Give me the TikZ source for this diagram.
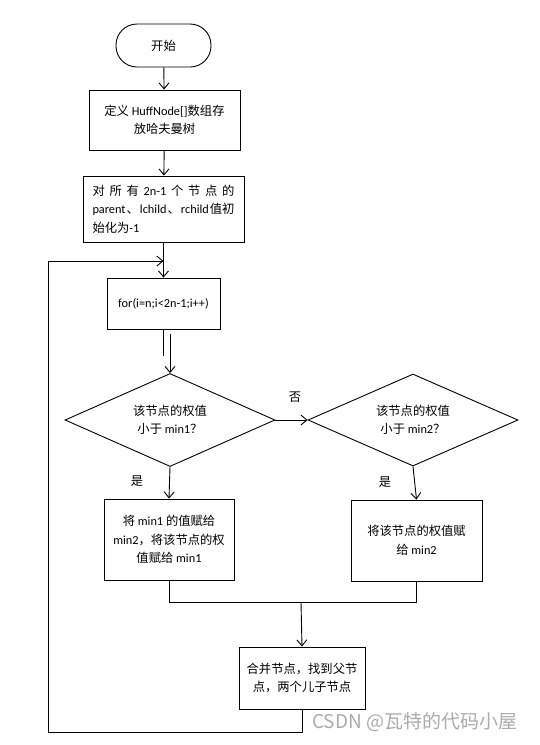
\documentclass[tikz,border=0pt]{standalone}
\usepackage{fontspec}
\setmainfont{Carlito}
\newfontfamily\cjk{Noto Sans CJK SC}
\newcommand\zh[1]{{\cjk #1}}
\usetikzlibrary{shapes.geometric,arrows.meta}
\begin{document}
\begin{tikzpicture}[x=1pt,y=-1pt,
  every node/.style={font=\fontsize{12.3}{18.5}\selectfont, inner sep=0pt},
  box/.style={draw, line width=0.9pt, align=center},
  dia/.style={draw, line width=0.9pt, diamond, aspect=2.26, align=center},
  arr/.style={line width=0.9pt, -{Straight Barb[length=6pt,width=10pt]}},
  ln/.style={line width=0.9pt}]
\useasboundingbox (0,0) rectangle (540,745);
\node[box, rounded corners=21pt, minimum width=95pt, minimum height=43pt] (start) at (163.5,45.5) {\zh{开始}};
\node[box, minimum width=151pt, minimum height=60pt] (def) at (164.5,120) {\zh{定义} HuffNode[]\zh{数组存}\\\zh{放哈夫曼树}};
\node[box, minimum width=161pt, minimum height=66pt, align=left] (init) at (163.5,209)
  {\makebox[142pt][s]{\zh{对}\hfill\zh{所}\hfill\zh{有}\hfill 2n-1\hfill\zh{个}\hfill\zh{节}\hfill\zh{点}\hfill\zh{的}}\\
   \makebox[142pt][s]{parent\hfill\zh{、}\hfill lchild\hfill\zh{、}\hfill rchild\hfill\zh{值初}}\\
   \zh{始化为}-1\hfill\hbox{}};
\node[box, minimum width=113pt, minimum height=51pt] (loop) at (163.5,303.5) {for(i=n;i<2n-1;i++)};
\node[dia, minimum width=210pt, minimum height=93pt] (d1) at (170,420) {\zh{该节点的权值}\\\zh{小于} min1\zh{？}};
\node[dia, minimum width=210pt, minimum height=92pt] (d2) at (413,420) {\zh{该节点的权值}\\\zh{小于} min2\zh{？}};
\node[box, minimum width=130pt, minimum height=81pt] (A) at (169,539.5) {\zh{将} min1 \zh{的值赋给}\\min2\zh{，将该节点的权}\\\zh{值赋给} min1};
\node[box, minimum width=131pt, minimum height=81pt] (B) at (416.5,540.5) {\zh{将该节点的权值赋}\\\zh{给} min2};
\node[box, minimum width=126pt, minimum height=62pt] (merge) at (302,678) {\zh{合并节点，找到父节}\\\zh{点，两个儿子节点}};
\node (no) at (295,397) {\zh{否}};
\node (yes1) at (137,481) {\zh{是}};
\node (yes2) at (385,482) {\zh{是}};
\node[anchor=west, text=black!33, font=\cjk\fontsize{19}{22}\selectfont] (wm) at (312,722) {CSDN @瓦特的代码小屋};
% coordinates
\coordinate (join) at (163.5,261);
\coordinate (lt) at (48,261);
\coordinate (lb) at (48,732);
\coordinate (fs) at (170,334);
\coordinate (fe) at (163.5,356);
\coordinate (jy) at (0,602);
\coordinate (jm) at (301,602);
% connectors
\draw[arr] (start) -- (def);
\draw[arr] (def) -- (init);
\draw[arr] (init.south) -- (loop.north);
\draw[ln] (loop.south) -- (fe);
\draw[arr] (fs) -- (d1.north);
\draw[arr] (d1.east) -- (d2.west);
\draw[arr] (d1.south) -- (A.north);
\draw[arr] (d2.south) -- (B.north);
\draw[ln] (A.south) -- (A.south |- jy) -- (B.south |- jy) -- (B.south);
\draw[arr] (jm) -- (merge.north);
\draw[arr] (merge.south) |- (lb) -- (lt) -- (join);
\end{tikzpicture}
\end{document}
